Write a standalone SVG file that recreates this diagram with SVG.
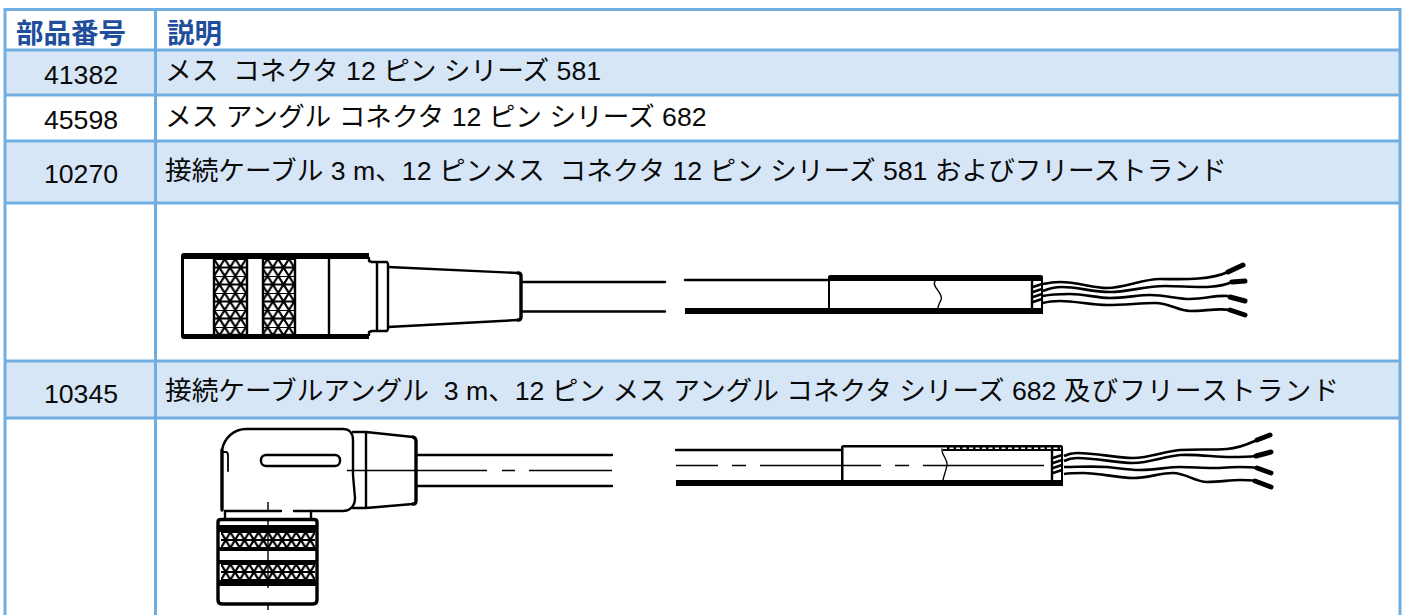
<svg xmlns="http://www.w3.org/2000/svg" width="1404" height="615" viewBox="0 0 1404 615">
<style>
.h{font:bold 27.500px "Liberation Sans","Noto Sans CJK JP",sans-serif;fill:#1f4e9c}
.t{font:26.670px "Liberation Sans","Noto Sans CJK JP",sans-serif;fill:#0a0a0a;white-space:pre}
.c{text-anchor:middle}
.g{stroke:#70ade0;stroke-width:3;fill:none}
.k{fill:none;stroke:#000;stroke-linecap:round;stroke-linejoin:round}
.f{fill:#000}
.w{stroke-width:2.400}
.b{stroke-width:3.400}
.n{stroke-width:1.400;stroke-linecap:butt}
.wire{fill:none;stroke:#000;stroke-width:2.600}
.tip{fill:none;stroke:#000;stroke-width:5;stroke-linecap:round}
</style>
<defs>
<pattern id="knurl" width="10.700" height="17" patternUnits="userSpaceOnUse" patternTransform="translate(214 259)">
<rect width="10.700" height="17" fill="#fff"/>
<path d="M0 0H10.700M0 8.500H10.700M0 0L5.350 8.500L10.700 0M0 17L5.350 8.500L10.700 17" fill="none" stroke="#000" stroke-width="2.200"/>
</pattern>
<pattern id="knurl2" width="9.400" height="16" patternUnits="userSpaceOnUse" patternTransform="translate(221 532)">
<rect width="9.400" height="16" fill="#fff"/>
<path d="M0 0H9.400M0 8H9.400M0 16H9.400M0 0L4.700 8L9.400 0M0 16L4.700 8L9.400 16" fill="none" stroke="#000" stroke-width="2.200"/>
</pattern>
</defs>
<rect width="1404" height="615" fill="#fff"/>
<g id="table-fills">
<rect x="5" y="50" width="1395" height="45" fill="#d6e6f6"/>
<rect x="5" y="141" width="1395" height="62" fill="#d6e6f6"/>
<rect x="5" y="361" width="1395" height="57" fill="#d6e6f6"/>
</g>
<g id="table-grid" class="g">
<path d="M5 9.500H1400M5 50H1400M5 95H1400M5 141H1400M5 203H1400M5 361H1400M5 418H1400M5 8V615M155.500 8V615M1400 8V615"/>
</g>
<g id="row-header"><text class="h" x="16" y="43">部品番号</text><text class="h" x="167" y="43">説明</text></g>
<g id="row-41382"><text class="t c" x="81" y="83.500">41382</text><text class="t" x="165" y="80">メス  コネクタ 12 ピン シリーズ 581</text></g>
<g id="row-45598"><text class="t c" x="81" y="129">45598</text><text class="t" x="165" y="126">メス アングル コネクタ 12 ピン シリーズ 682</text></g>
<g id="row-10270"><text class="t c" x="81" y="183">10270</text><text class="t" x="165" y="180">接続ケーブル 3 m、12 ピンメス  コネクタ 12 ピン シリーズ 581 およびフリーストランド</text></g>
<g id="row-10345"><text class="t c" x="81" y="403">10345</text><text class="t" x="165" y="400">接続ケーブルアングル  3 m、12 ピン メス アングル コネクタ シリーズ 682 <tspan letter-spacing="1.100">及びフリーストランド</tspan></text></g>
<g id="straight-connector">
<rect x="214" y="258" width="33" height="77" fill="url(#knurl)" stroke="#000" stroke-width="2.400"/>
<rect x="263" y="258" width="32" height="77" fill="url(#knurl)" stroke="#000" stroke-width="2.400"/>
<path class="f" d="M184 253H369V259H184V334H369V339H184Q181 339 181 336V256Q181 253 184 253Z"/>
<path class="k w" d="M329 258V335M369 258V261L372 262H377M369 335V332L372 331H377M377 262H387L388 264V329L387 331H377ZM377 262V331"/>
<path class="k w" d="M388 267L518 273M388 327L518 320"/>
<path class="k b" d="M518 273Q521 273 521 276V317Q521 320 518 320"/>
<path class="k w" d="M521 282H665M521 311.500H665"/>
<path class="k" stroke-width="2.400" d="M685 280H828"/>
<rect class="f" x="685" y="308" width="358" height="6"/>
<path class="f" d="M828 277Q828 275 831 275H1041Q1043 275 1043 277V312H1041V281H830V310H828Z"/>
<path class="k" stroke-width="1.400" d="M935 281C931 287 944 293 941 300C939 304 938 306 938 308"/>
<path class="k w" d="M1032 281V308"/>
<path class="k w" d="M1033 287L1042 284M1033 292L1042 289M1033 297L1042 294M1033 302L1042 299"/>
<g class="wire">
<path d="M1043 284C1052 282 1056 282 1060 282C1078 282 1092 288 1107 288C1125 288 1142 279 1160 279C1178 279 1208 281 1228 272"/>
<path d="M1043 291C1050 288 1056 287 1062 287C1078 287 1092 292 1110 292C1128 292 1145 286 1165 286C1190 286 1215 290 1232 282"/>
<path d="M1043 296C1052 294 1060 294 1070 294C1085 294 1097 298 1110 298C1125 298 1138 295 1150 295C1165 295 1178 299 1190 299C1205 299 1215 295 1228 296"/>
<path d="M1043 303C1050 301 1055 301 1060 301C1075 301 1092 305 1107 305C1125 305 1140 303 1155 303C1170 303 1178 311 1190 311C1205 311 1218 308 1230 310"/>
</g>
<path class="tip" d="M1228 272L1243 265M1232 282L1245 281M1230 297L1245 301M1230 310L1245 315"/>
</g>
<g id="angled-connector">
<path class="k w" d="M222 450C224 438 234 429 246 429H343C349 429 353 433 353 440V475L355 498C355 506 350 511 343 511H294M281 511H225"/>
<path class="k b" d="M222 450V510"/>
<path class="k" stroke-width="1.800" d="M222 452H226Q228 452 228 456V471"/>
<rect class="k w" x="261" y="455" width="79" height="11" rx="5"/>
<path class="k w" d="M353 432H366L413 437M413 504L366 508H353M366 432V508"/>
<path class="k b" d="M413 437Q416 438 416 441V501Q416 504 413 504"/>
<path class="k w" d="M416 455H612M416 486H612"/>
<path class="k n" d="M347 470.500H487M502 470.500H515M529 470.500H612M268 502V510"/>
<path class="k w" d="M225 511V519M311 511V519"/>
<path class="k b" d="M218 522Q218 519.500 221 519.500H314Q317 519.500 317 522V600Q317 604 313 604H222Q218 604 218 600Z"/>
<rect x="221" y="532" width="94" height="16" fill="url(#knurl2)"/>
<rect x="221" y="564" width="94" height="16" fill="url(#knurl2)"/>
<rect class="f" x="219" y="525" width="97" height="7"/>
<rect class="f" x="219" y="547" width="97" height="4"/>
<rect class="f" x="219" y="560" width="97" height="4"/>
<rect class="f" x="219" y="580" width="97" height="6"/>
<path class="k n" d="M268 520V588"/>
<path class="k n" d="M268 604V610"/>
<path class="k w" d="M676 450H842"/>
<rect class="f" x="676" y="480" width="387" height="6"/>
<path class="k n" d="M676 465.500H718M732 465.500H746M760 465.500H881M895 465.500H909M923 465.500H1044"/>
<path class="f" d="M841 447Q841 445 844 445H1061Q1063 445 1063 447V486H1061V451H943V447.500H843.500V481H841Z"/>
<path d="M943 448.300H1061" stroke="#fff" stroke-width="1.600" stroke-dasharray="4 2.500"/>
<path class="k" stroke-width="1.400" d="M942 449C941 454 948 460 947 465C946 471 944 475 943 480"/>
<path class="k w" d="M1052 451V480"/>
<path class="k w" d="M1053 458L1062 455M1053 463L1062 460M1053 468L1062 465M1053 473L1062 470"/>
<g class="wire">
<path d="M1064 456C1068 454 1072 453 1077 453C1098 453 1115 458 1133 458C1150 458 1165 451 1180 450C1195 449 1212 450 1227 449C1240 448 1248 444 1257 440"/>
<path d="M1064 461C1068 459 1072 458 1077 458C1098 458 1115 463 1133 463C1150 463 1165 456 1180 455C1198 454 1215 457 1230 457C1240 457 1248 457 1256 456"/>
<path d="M1064 467C1078 467 1092 466 1107 467C1118 468 1128 470 1140 470C1155 470 1168 467 1180 467C1192 467 1202 468 1213 468C1222 468 1232 467 1240 467C1246 467 1252 467 1257 468"/>
<path d="M1064 474C1070 473 1076 473 1083 473C1100 473 1118 478 1133 478C1148 478 1160 473 1173 473C1186 473 1195 482 1207 482C1220 482 1230 480 1240 480C1246 480 1250 480 1255 481"/>
</g>
<path class="tip" d="M1257 440L1270 435M1256 456L1271 452M1257 468L1271 473M1255 481L1271 487"/>
</g>
</svg>
